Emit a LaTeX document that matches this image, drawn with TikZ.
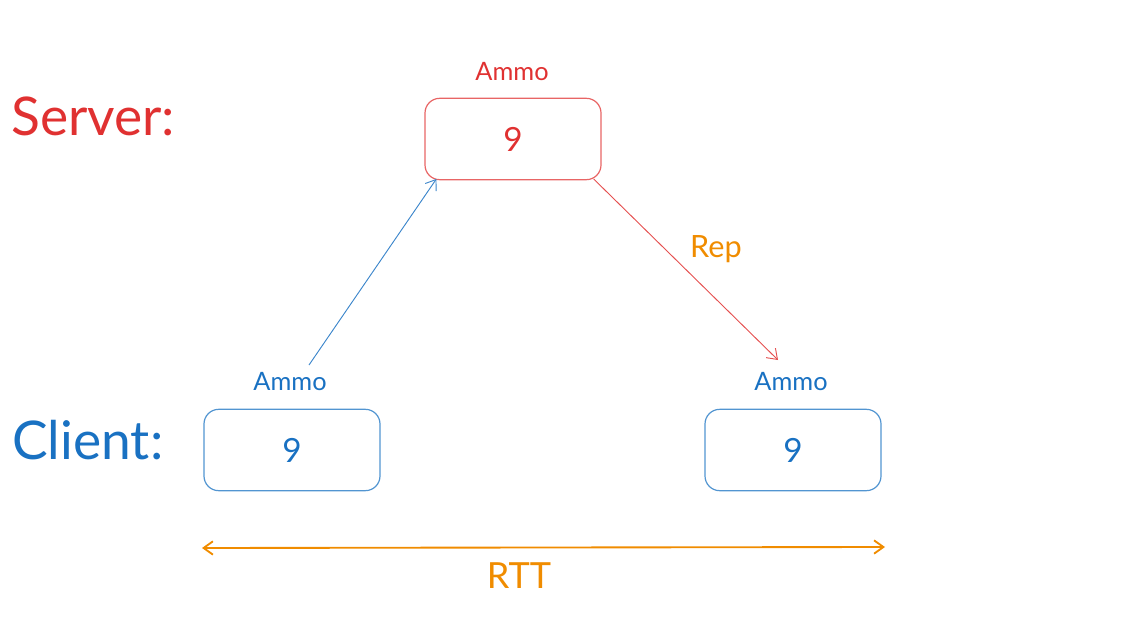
\documentclass[tikz,border=0pt]{standalone}
\usepackage{fontspec}
\setmainfont{Lato}
\usetikzlibrary{arrows.meta}
\definecolor{srvred}{HTML}{E03131}
\definecolor{cliblue}{HTML}{1971C2}
\definecolor{rttorange}{HTML}{F08C00}
\begin{document}
\begin{tikzpicture}[x=0.75pt,y=0.75pt,yscale=-1,xscale=1,
    valbox/.style={draw,rounded corners=11pt,line width=0.9pt,minimum width=132pt,minimum height=61pt,inner sep=0.75pt,font=\fontsize{25}{29}\selectfont},
    lbl/.style={inner sep=0.75pt,font=\fontsize{19}{23}\selectfont},
    side/.style={inner sep=0.75pt,anchor=west,font=\fontsize{40}{46}\selectfont},
    barb/.style={-{Straight Barb[length=7pt,width=10pt]},line width=0.7pt}]
    \path[use as bounding box] (0,0) rectangle (1129,617);
    
    % Text Node
    \node (server) [side,text=srvred] at (10,116) {Server:};
    % Text Node
    \node (client) [side,text=cliblue] at (11,440) {Client:};
    
    %Shape: Rectangle
    \node (srv) [valbox,draw=srvred!75,text=srvred] at (513,139) {9};
    %Shape: Rectangle
    \node (cl) [valbox,draw=cliblue!75,text=cliblue] at (292,450) {9};
    %Shape: Rectangle
    \node (cr) [valbox,draw=cliblue!75,text=cliblue] at (793,450) {9};
    
    % Text Node
    \node (srvammo) [lbl,text=srvred] at (512,72) {Ammo};
    % Text Node
    \node (clammo) [lbl,text=cliblue] at (290,382) {Ammo};
    % Text Node
    \node (crammo) [lbl,text=cliblue] at (791,382) {Ammo};
    
    \coordinate (reqstart) at (309,365);
    \coordinate (repend) at (778,360);
    \coordinate (rttl) at (202,548);
    \coordinate (rttr) at (885,547);
    
    % Arrows
    \draw [barb,draw=cliblue!85] (reqstart) -- ([xshift=9pt,yshift=-1pt]srv.south west);
    \draw [barb,draw=srvred!85] ([xshift=-6pt,yshift=-1pt]srv.south east) -- (repend);
    \draw [{Straight Barb[length=7pt,width=10pt]}-{Straight Barb[length=7pt,width=10pt]},line width=1.4pt,draw=rttorange] (rttl) -- (rttr);
    
    % Text Node
    \node (rep) [lbl,text=rttorange,font=\fontsize{23}{27}\selectfont] at (716,249) {Rep};
    % Text Node
    \node (rtt) [lbl,text=rttorange,font=\fontsize{27}{31}\selectfont] at (519,576) {RTT};
    
\end{tikzpicture}
\end{document}
